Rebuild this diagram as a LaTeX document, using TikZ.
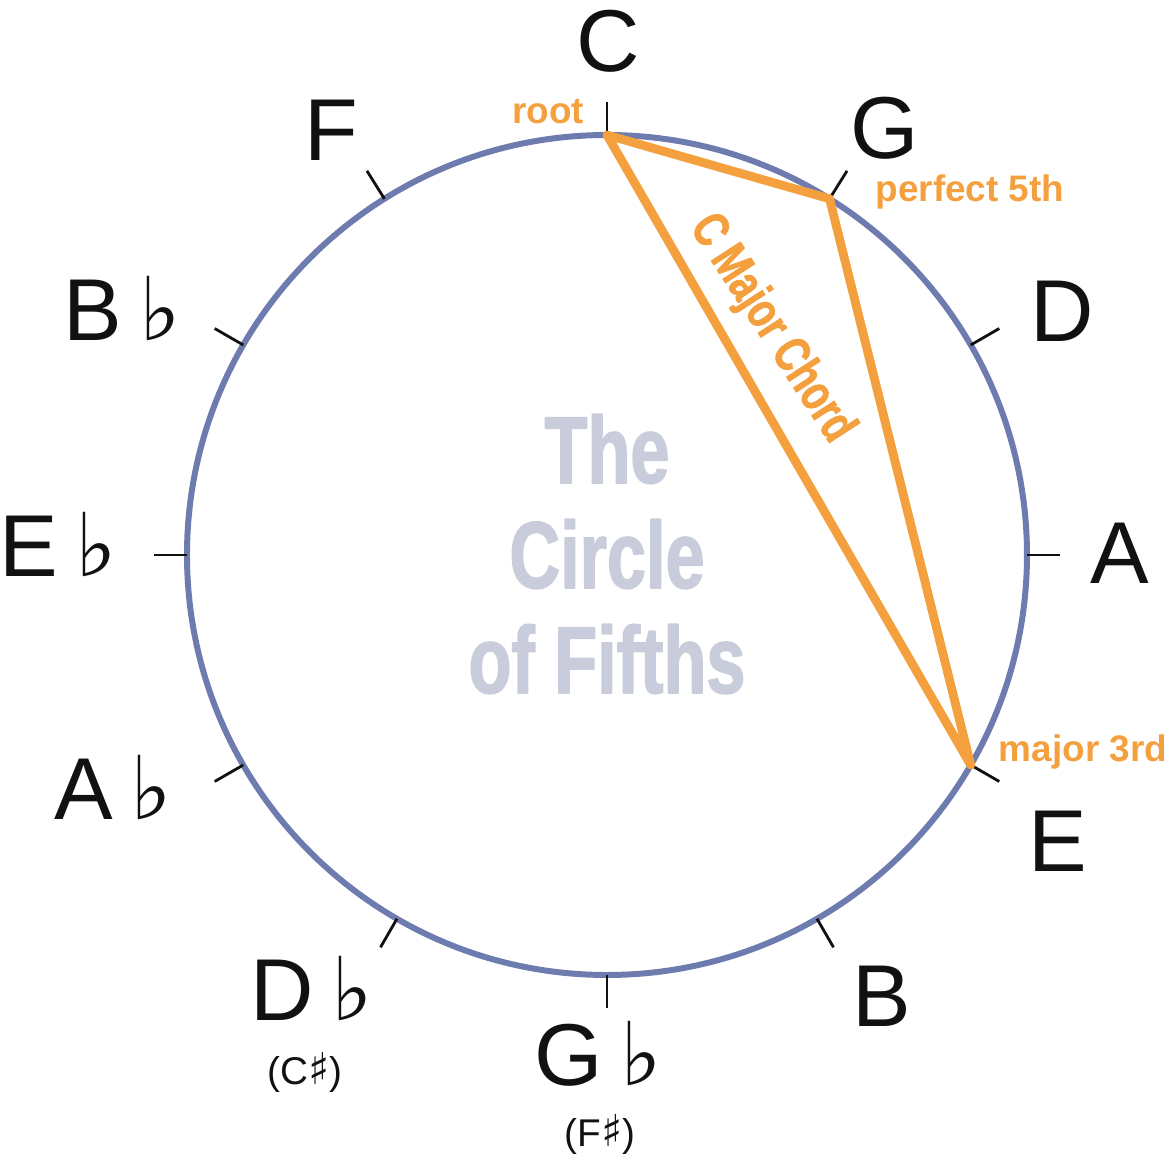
\documentclass[tikz,border=0pt]{standalone}
\usepackage{fontspec}
\setmainfont{Liberation Sans}
\newfontfamily\musicfont{DejaVu Sans}
\newfontfamily\posterfont{Liberation Sans Bold}[FakeStretch=0.74,FakeBold=1.6]
\newcommand{\flatsign}{\kern5pt{\musicfont ♭}}
\newcommand{\sharpsign}{{\musicfont\fontsize{12.5}{13}\selectfont ♯}}
\definecolor{ink}{HTML}{111111}
\definecolor{ring}{HTML}{6D7BAF}
\definecolor{amber}{HTML}{F4A03E}
\definecolor{mist}{HTML}{C9CDDB}

\begin{document}
\begin{tikzpicture}[text=ink,line join=round,
  note/.style={anchor=base,font=\fontsize{25}{30}\selectfont},
  enharm/.style={anchor=base,font=\fontsize{11}{13}\selectfont},
  chordtag/.style={anchor=base,text=amber,font=\fontsize{10.5}{12}\selectfont\bfseries},
  hub/.style={anchor=base,text=mist,font=\posterfont\fontsize{27}{30}\selectfont}]
  \useasboundingbox (-6.07,-6.08) rectangle (5.61,5.55);
  % ring and ticks
  \draw[ring,line width=1.7pt] (0,0) circle (4.2);
  \foreach \a in {90,58,30,0,-30,-60,-90,-120,-150,180,150,122}
    \draw[ink,line width=.8pt] (\a:4.2) -- (\a:4.53);
  % title
  \node[hub] (hubthe) at (0,.72) {The};
  \node[hub] (hubcircle) at (0,-.33) {Circle};
  \node[hub] (hubfifths) at (0,-1.38) {of Fifths};
  % the chord
  \coordinate (root) at (90:4.2);
  \coordinate (fifth) at (58:4.2);
  \coordinate (third) at (-30:4.2);
  \draw[amber,line width=2.5pt] (root) -- (fifth) -- (third) -- cycle;
  \node[text=amber,rotate=-57,font=\posterfont\fontsize{14.5}{16}\selectfont]
    (chordname) at (1.64,2.26) {C Major Chord};
  \node[chordtag] (roottag) at (-.59,4.31) {root};
  \node[chordtag] (fifthtag) at (3.63,3.54) {perfect 5th};
  \node[chordtag] (thirdtag) at (4.76,-2.07) {major 3rd};
  % keys
  \node[note] (C) at (.01,4.83) {C};
  \node[note] (G) at (2.78,3.96) {G};
  \node[note] (D) at (4.55,2.13) {D};
  \node[note] (A) at (5.13,-.29) {A};
  \node[note] (E) at (4.51,-3.17) {E};
  \node[note] (B) at (2.75,-4.72) {B};
  \node[note] (Gb) at (-.09,-5.31) {G\flatsign};
  \node[enharm] (Fs) at (-.07,-5.92) {(F\sharpsign)};
  \node[note] (Db) at (-2.95,-4.66) {D\flatsign};
  \node[enharm] (Cs) at (-3.02,-5.30) {(C\sharpsign)};
  \node[note] (Ab) at (-4.94,-2.64) {A\flatsign};
  \node[note] (Eb) at (-5.49,-.22) {E\flatsign};
  \node[note] (Bb) at (-4.85,2.14) {B\flatsign};
  \node[note] (F) at (-2.76,3.94) {F};
\end{tikzpicture}
\end{document}
